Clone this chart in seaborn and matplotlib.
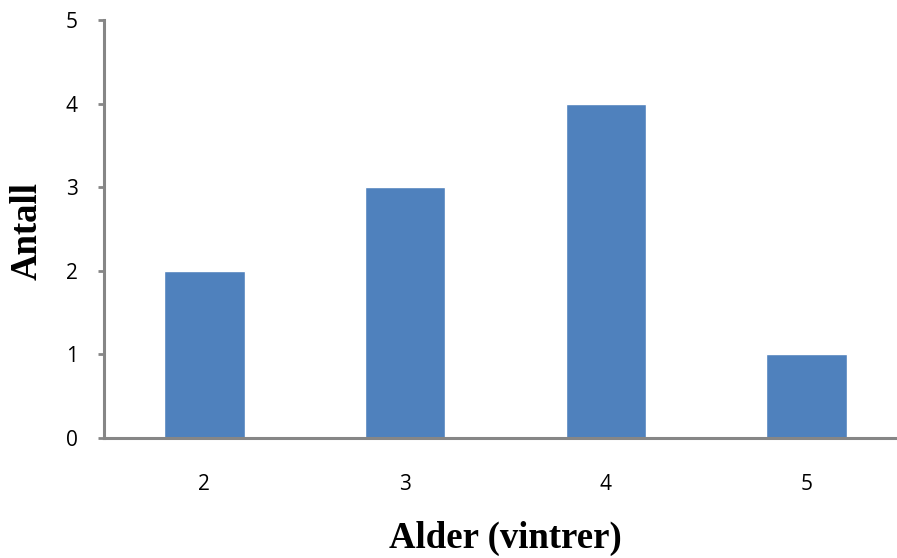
import matplotlib
matplotlib.use("Agg")
import matplotlib.pyplot as plt
import seaborn as sns
import pandas as pd

categories = ["2", "3", "4", "5"]
values = [2, 3, 4, 1]
yticks = [0, 1, 2, 3, 4, 5]

sns.set_theme(style="white")
plt.rcParams['font.family'] = ['Open Sans', 'DejaVu Sans']

df = pd.DataFrame({"Alder": categories, "Antall": values})

fig = plt.figure(figsize=(8.97, 5.58), dpi=100)
W, H = 897, 558
left, right, top, bottom = 104, 907, 20, 438
ax = fig.add_axes([left / W, 1 - bottom / H, (right - left) / W, (bottom - top) / H])

sns.barplot(data=df, x="Alder", y="Antall", color="#4F81BD", width=0.4,
            saturation=1, ax=ax)

ax.set_xlim(-0.5, 3.5)
ax.set_ylim(0, 5)
ax.set_yticks(yticks)
ax.set_yticklabels([str(t) for t in yticks])

for s in ["top", "right"]:
    ax.spines[s].set_visible(False)
for s in ["left", "bottom"]:
    ax.spines[s].set_color("#868686")
    ax.spines[s].set_linewidth(2.2)

ax.tick_params(axis="y", which="both", left=True, length=4, width=2, color="#868686",
               labelsize=15, labelcolor="black", pad=15)
ax.tick_params(axis="x", which="both", bottom=False, labelsize=15, labelcolor="black", pad=20)

ax.set_xlabel("Alder (vintrer)", fontsize=26.5, fontweight="bold", family="Liberation Serif",
              color="black")
ax.set_ylabel("Antall", fontsize=26.5, fontweight="bold", family="Liberation Serif",
              color="black")
ax.xaxis.set_label_coords((505 - left) / (right - left), (bottom - 521) / (bottom - top))
ax.yaxis.label.set_verticalalignment("center")
ax.yaxis.set_label_coords((27 - left) / (right - left), (bottom - 231) / (bottom - top))

fig.savefig("out.png", dpi=100)
